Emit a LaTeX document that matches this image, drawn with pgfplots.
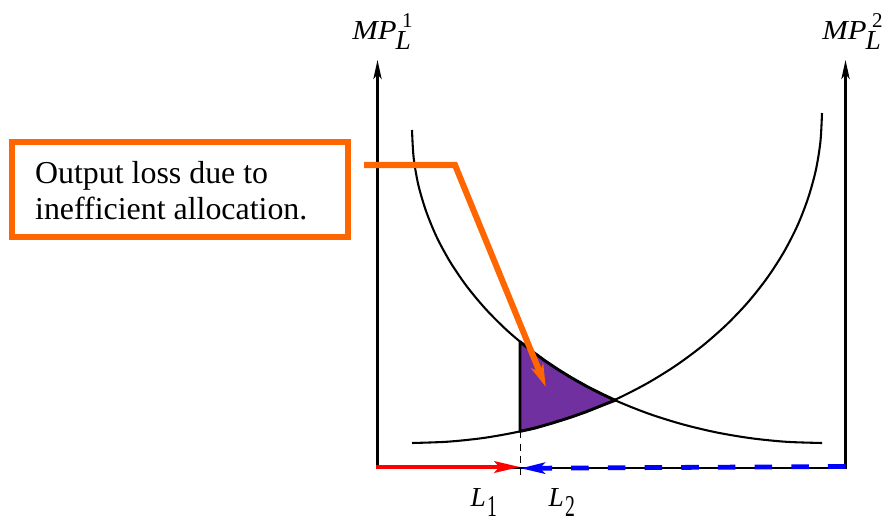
\documentclass[border=0pt]{standalone}
\usepackage{fontspec}
\setmainfont{Liberation Serif}
\usepackage{graphicx}
\usepackage{pgfplots}
\pgfplotsset{compat=1.18}
\usetikzlibrary{arrows.meta}
\definecolor{lossorange}{RGB}{255,102,0}
\definecolor{losspurple}{RGB}{112,48,160}
\newcommand{\mplabel}[1]{\itshape\makebox[13.57pt][l]{\scalebox{1.12}[1]{MP}}\rlap{\raisebox{-3.3pt}{L}}\hspace{2.04pt}\raisebox{3.7pt}{\upshape\fontsize{6.6}{8}\selectfont #1}}
\newcommand{\llabel}[1]{\itshape\makebox[5.17pt][l]{L}\raisebox{-2.92pt}{\upshape\fontsize{9.5}{11}\selectfont\scalebox{0.65}[1]{#1}}}
\begin{document}
\begin{tikzpicture}
\begin{axis}[
  x=0.3135pt, y=0.3135pt, y dir=reverse,
  xmin=0, xmax=883, ymin=0, ymax=519,
  hide axis, clip=false, enlargelimits=false,
]
\addplot[draw=none] coordinates {(0,0) (883,519)};
% output loss region
\addplot[fill=losspurple, draw=black, line width=0.9pt, line join=round] coordinates {
 (520,341.7) (532.1,351.3) (545,360.8) (558.5,369.8) (572,378.1) (586.8,386.4) (601,393.6) (615.3,400.3)
 (601,405.8) (585.3,412.1) (570,417.5) (552.2,423.1) (535,428.1) (520,431.4)} -- cycle;
% MP_L^1 (decreasing)
\addplot[black, line width=0.65pt, smooth] coordinates {
 (412,130) (413.6,157.3) (418.2,184.4) (426.0,211.0) (436.7,237.1) (450.4,262.3) (466.9,286.5)
 (486.1,309.5) (507.9,331.2) (532.1,351.3) (558.5,369.8) (586.8,386.4) (617,401.1) (648.7,413.7)
 (681.8,424.1) (715.9,432.3) (750.8,438.2) (786.3,441.8) (822,443)};
% MP_L^2 (increasing)
\addplot[black, line width=0.65pt, smooth] coordinates {
 (412,443) (447.7,441.7) (483.2,438.0) (518.1,431.8) (552.2,423.1) (585.3,412.1) (617,398.8)
 (647.2,383.3) (675.5,365.8) (701.9,346.3) (726.1,325.1) (747.9,302.3) (767.1,278) (783.6,252.5)
 (797.3,225.9) (808.0,198.4) (815.8,170.3) (820.4,141.8) (822,113)};
% axes
\addplot[black, line width=0.7pt, -{Stealth[length=6pt,width=2.6pt,inset=1.5pt]}] coordinates {(377.5,468.6) (377.5,60)};
\addplot[black, line width=0.7pt, -{Stealth[length=6pt,width=2.6pt,inset=1.5pt]}] coordinates {(845.5,468.6) (845.5,60)};
\addplot[black, line width=0.7pt] coordinates {(377.5,468.3) (845.5,468.3)};
% dashed divider
\addplot[black, line width=0.5pt, dash pattern=on 2.2pt off 1.6pt] coordinates {(520.5,431.4) (520.5,476)};
% L1 and L2 arrows
\addplot[red, line width=1.3pt, -{Stealth[length=8pt,width=3.6pt,inset=1.5pt]}] coordinates {(376,467) (520,467)};
\addplot[blue, line width=1.5pt, dash pattern=on 5.5pt off 6pt, -{Stealth[length=7.5pt,width=3.4pt,inset=1.5pt]}] coordinates {(845.5,466.5) (520.5,468.3)};
% orange callout
\addplot[lossorange, line width=1.9pt, line join=miter, -{Stealth[length=7pt,width=4pt,inset=2pt]}] coordinates {(364,165) (455,165) (545.7,386.7)};
\draw[lossorange, line width=1.6pt] (axis cs:12,142) rectangle (axis cs:348,237);
\node[anchor=base west, inner sep=0pt, font=\fontsize{10}{12}\selectfont] at (axis cs:34.5,183.3) {Output loss due to};
\node[anchor=base west, inner sep=0pt, font=\fontsize{10}{12}\selectfont] at (axis cs:34.5,219.3) {inefficient allocation.};
% axis labels
\node[anchor=base west, inner sep=0pt, font=\fontsize{8.6}{10}\selectfont] at (axis cs:351.7,39.3) {\mplabel{1}};
\node[anchor=base west, inner sep=0pt, font=\fontsize{8.6}{10}\selectfont] at (axis cs:821.7,39.3) {\mplabel{2}};
\node[anchor=base west, inner sep=0pt, font=\fontsize{8.6}{10}\selectfont] at (axis cs:470,506.7) {\llabel{1}};
\node[anchor=base west, inner sep=0pt, font=\fontsize{8.6}{10}\selectfont] at (axis cs:548,506.7) {\llabel{2}};
\end{axis}
\end{tikzpicture}
\end{document}
